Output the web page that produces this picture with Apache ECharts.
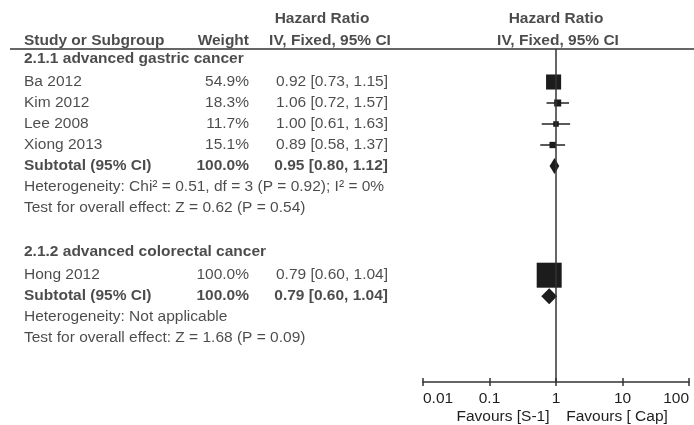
<!DOCTYPE html>
<html>
<head>
<meta charset="utf-8">
<script src="https://cdn.jsdelivr.net/npm/echarts@6/dist/echarts.min.js"></script>
<style>
html,body{margin:0;padding:0;background:#fff}
#main{width:694px;height:425px}
</style>
</head>
<body>
<div id="main"></div>
<script>
// ---- data ----
var groups = ['2.1.1 advanced gastric cancer', '2.1.2 advanced colorectal cancer'];
var studyNames = ['Ba 2012', 'Kim 2012', 'Lee 2008', 'Xiong 2013', 'Hong 2012'];
var studyGroup = [0, 0, 0, 0, 1];
var weights = [54.9, 18.3, 11.7, 15.1, 100.0];
var hr = [0.92, 1.06, 1.00, 0.89, 0.79];
var lower = [0.73, 0.72, 0.61, 0.58, 0.60];
var upper = [1.15, 1.57, 1.63, 1.37, 1.04];
var subWeight = [100.0, 100.0];
var subHr = [0.95, 0.79];
var subLower = [0.80, 0.60];
var subUpper = [1.12, 1.04];
var heterogeneity = ['Heterogeneity: Chi\u00b2 = 0.51, df = 3 (P = 0.92); I\u00b2 = 0%', 'Heterogeneity: Not applicable'];
var overallTest = ['Test for overall effect: Z = 0.62 (P = 0.54)', 'Test for overall effect: Z = 1.68 (P = 0.09)'];
var tickValues = [0.01, 0.1, 1, 10, 100];
var tickLabels = ['0.01', '0.1', '1', '10', '100'];
var favours = ['Favours [S-1]', 'Favours [ Cap]'];

// ---- layout (row units) ----
var ROW = 21, BASE = 61;       // pixel height of one row, pixel y of row 0
var FONT = 'Liberation Sans, Arial, sans-serif';
var FS = 15.5;
var TXT = '#1e1e1e';

function ci(v, lo, hi) {
    return v.toFixed(2) + ' [' + lo.toFixed(2) + ', ' + hi.toFixed(2) + ']';
}

var texts = [];   // [x, row, text, align, bold]
var studyRows = [], subRows = [];
var k = -0.1;
groups.forEach(function (g, gi) {
    texts.push([24, k, g, 'left', true]);
    k += 1.1;
    for (var i = 0; i < studyNames.length; i++) {
        if (studyGroup[i] !== gi) continue;
        studyRows[i] = k;
        texts.push([24, k, studyNames[i], 'left', false]);
        texts.push([249, k, weights[i].toFixed(1) + '%', 'right', false]);
        texts.push([388, k, ci(hr[i], lower[i], upper[i]), 'right', false]);
        k += 1;
    }
    subRows[gi] = k;
    texts.push([24, k, 'Subtotal (95% CI)', 'left', true]);
    texts.push([249, k, subWeight[gi].toFixed(1) + '%', 'right', true]);
    texts.push([388, k, ci(subHr[gi], subLower[gi], subUpper[gi]), 'right', true]);
    k += 1;
    texts.push([24, k, heterogeneity[gi], 'left', false]);
    k += 1;
    texts.push([24, k, overallTest[gi], 'left', false]);
    k += 2.1;
});
// header rows
texts.push([322, -2, 'Hazard Ratio', 'center', true]);
texts.push([24, -0.95, 'Study or Subgroup', 'left', true]);
texts.push([249, -0.95, 'Weight', 'right', true]);
texts.push([330, -0.95, 'IV, Fixed, 95% CI', 'center', true]);
texts.push([556, -2, 'Hazard Ratio', 'center', true]);
texts.push([558, -0.95, 'IV, Fixed, 95% CI', 'center', true]);

var textData = texts.map(function (t) {
    return {
        value: [t[0], t[1]],
        label: { formatter: t[2], align: t[3], fontWeight: t[4] ? 'bold' : 'normal' }
    };
});

var studyData = studyNames.map(function (n, i) {
    return [hr[i], lower[i], upper[i], studyRows[i], weights[i]];
});
var subData = subHr.map(function (v, i) {
    return [v, subLower[i], subUpper[i], subRows[i]];
});

var chart = echarts.init(document.getElementById('main'));
var option = {
    backgroundColor: '#fff',
    animation: false,
    grid: [
        { left: 0, right: 0, top: 0, bottom: 0, outerBoundsMode: 'none' },
        { left: 423, right: 5, top: 49, bottom: 43, outerBoundsMode: 'none' }
    ],
    xAxis: [
        { gridIndex: 0, type: 'value', min: 0, max: 694, show: false },
        {
            gridIndex: 1, type: 'log', logBase: 10, min: 0.01, max: 100, splitNumber: 4,
            position: 'bottom',
            axisLine: { onZero: false, lineStyle: { color: '#333', width: 1.5 } },
            axisTick: { show: true, length: 4, lineStyle: { color: '#333', width: 1.5 } },
            minorTick: { show: false },
            splitLine: { show: false },
            axisLabel: {
                color: TXT, fontFamily: FONT, fontSize: FS, margin: 9,
                alignMinLabel: 'left', alignMaxLabel: 'right',
                formatter: function (v) {
                    var best = 0;
                    for (var i = 1; i < tickValues.length; i++) {
                        if (Math.abs(Math.log10(v) - Math.log10(tickValues[i])) <
                            Math.abs(Math.log10(v) - Math.log10(tickValues[best]))) best = i;
                    }
                    return tickLabels[best];
                }
            }
        },
        {
            gridIndex: 1, type: 'log', logBase: 10, min: 0.01, max: 100, splitNumber: 4,
            position: 'bottom', offset: 0,
            axisLine: { show: false, onZero: false },
            axisTick: { show: true, inside: true, length: 4, lineStyle: { color: '#333', width: 1.5 } },
            axisLabel: { show: false },
            splitLine: { show: false }
        }
    ],
    yAxis: [
        { gridIndex: 0, type: 'value', inverse: true, min: -BASE / ROW, max: (425 - BASE) / ROW, show: false },
        { gridIndex: 1, type: 'value', inverse: true, min: (49 - BASE) / ROW, max: (382 - BASE) / ROW, show: false }
    ],
    graphic: [
        { type: 'line', shape: { x1: 10, y1: 49, x2: 694, y2: 49 }, style: { stroke: '#333', lineWidth: 1.5 } },
        { type: 'text', x: 503, y: 417, style: { text: favours[0], align: 'center', verticalAlign: 'middle', fill: TXT, font: FS + 'px ' + FONT } },
        { type: 'text', x: 617, y: 417, style: { text: favours[1], align: 'center', verticalAlign: 'middle', fill: TXT, font: FS + 'px ' + FONT } }
    ],
    series: [
        {
            type: 'scatter', xAxisIndex: 0, yAxisIndex: 0, symbolSize: 0, silent: true,
            label: { show: true, position: 'inside', verticalAlign: 'middle', color: TXT, fontFamily: FONT, fontSize: FS },
            data: textData
        },
        {
            type: 'custom', xAxisIndex: 1, yAxisIndex: 1, silent: true,
            data: studyData,
            renderItem: function (params, api) {
                var c = api.coord([api.value(0), api.value(3)]);
                var l = api.coord([api.value(1), api.value(3)]);
                var h = api.coord([api.value(2), api.value(3)]);
                var s = 3 + 22 * api.value(4) / 100;
                return {
                    type: 'group', children: [
                        { type: 'line', shape: { x1: l[0], y1: c[1], x2: h[0], y2: c[1] }, style: { stroke: '#222', lineWidth: 1.5 } },
                        { type: 'rect', shape: { x: c[0] - s / 2, y: c[1] - s / 2, width: s, height: s }, style: { fill: '#1c1c1c' } }
                    ]
                };
            },
            markLine: {
                silent: true, symbol: 'none', label: { show: false },
                lineStyle: { color: '#333', width: 1.5, type: 'solid' },
                data: [{ xAxis: 1 }]
            }
        },
        {
            type: 'custom', xAxisIndex: 1, yAxisIndex: 1, silent: true,
            data: subData,
            renderItem: function (params, api) {
                var c = api.coord([api.value(0), api.value(3)]);
                var l = api.coord([api.value(1), api.value(3)]);
                var h = api.coord([api.value(2), api.value(3)]);
                var d = 8;
                return {
                    type: 'polygon',
                    shape: { points: [[l[0], c[1]], [c[0], c[1] - d], [h[0], c[1]], [c[0], c[1] + d]] },
                    style: { fill: '#1c1c1c' }
                };
            }
        }
    ]
};
chart.setOption(option);
</script>
</body>
</html>
